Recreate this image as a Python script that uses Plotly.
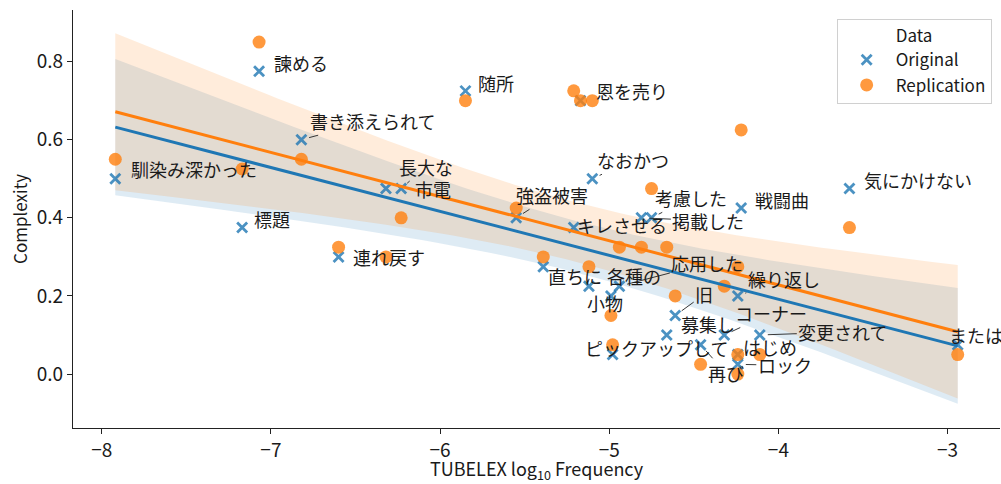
import numpy as np
import plotly.graph_objects as go

# ---------------- data ----------------
words = ["馴染み深かった", "標題", "諫める", "書き添えられて", "連れ戻す", "市電", "長大な",
         "随所", "強盗被害", "直ちに", "キレさせる", "恩を売り", "小物", "なおかつ",
         "各種の", "ピックアップして", "応用した", "掲載した", "考慮した", "募集し", "旧",
         "再び", "コーナー", "繰り返し", "ロック", "はじめ", "戦闘曲", "変更されて",
         "気にかけない", "または"]
log_freq = [-7.92, -7.17, -7.07, -6.82, -6.60, -6.32, -6.23,
            -5.85, -5.55, -5.39, -5.21, -5.17, -5.12, -5.10,
            -4.99, -4.98, -4.94, -4.81, -4.75, -4.66, -4.61,
            -4.46, -4.32, -4.24, -4.24, -4.24, -4.22, -4.11,
            -3.58, -2.94]
original = [0.500, 0.375, 0.775, 0.600, 0.300, 0.475, 0.475,
            0.725, 0.400, 0.275, 0.375, 0.700, 0.225, 0.500,
            0.200, 0.050, 0.225, 0.400, 0.400, 0.100, 0.150,
            0.075, 0.100, 0.200, 0.025, 0.050, 0.425, 0.100,
            0.475, 0.075]
replication = [0.550, 0.525, 0.850, 0.550, 0.325, 0.300, 0.400,
               0.700, 0.425, 0.300, 0.725, 0.700, 0.275, 0.700,
               0.150, 0.075, 0.325, 0.325, 0.475, 0.325, 0.200,
               0.025, 0.225, 0.275, 0.000, 0.050, 0.625, 0.050,
               0.375, 0.050]
x_ticks = [-8, -7, -6, -5, -4, -3]
y_ticks = [0.0, 0.2, 0.4, 0.6, 0.8]

# ---------------- label placement (pixels) ----------------
# ("left", xshift, yshift) -> plain text to the right of the point
# ("arrow", ax, ay)       -> text centre offset with leader line
label_pos = {
    "馴染み深かった": ("left", 14, 10),
    "諫める": ("left", 13, 8),
    "標題": ("left", 10, 9),
    "書き添えられて": ("arrow", 71, -19),
    "連れ戻す": ("left", 12, 0),
    "長大な": ("arrow", 25, -22),
    "市電": ("left", 27, 0),
    "随所": ("left", 11, 8),
    "恩を売り": ("left", 14, 10),
    "なおかつ": ("arrow", 41, -19),
    "強盗被害": ("arrow", 36, -23),
    "キレさせる": ("left", 1, 3),
    "考慮した": ("arrow", 39, -20),
    "掲載した": ("arrow", 67, 3),
    "戦闘曲": ("left", 12, 8),
    "気にかけない": ("left", 13, 9),
    "または": ("left", -11, 10),
    "直ちに": ("left", 3, -9),
    "各種の": ("arrow", 23, -20),
    "応用した": ("arrow", 88, -23),
    "小物": ("arrow", 16, 17),
    "旧": ("arrow", 29, -21),
    "繰り返し": ("arrow", 46, -17),
    "募集し": ("left", 12, 11),
    "コーナー": ("arrow", 47, -22),
    "変更されて": ("arrow", 83, -3),
    "はじめ": ("left", 3, 8),
    "ロック": ("arrow", 47, 1),
    "再び": ("arrow", 25, 28),
    "ピックアップして": ("arrow", 44, -7),
}

BLUE = "#1f77b4"
ORANGE = "#ff7f0e"
FONT = "Noto Sans CJK JP"
TXT = "#1a1a1a"


def reg_fit(x, y, n_grid=100):
    x = np.asarray(x, float)
    y = np.asarray(y, float)
    n = len(x)
    b, a = np.polyfit(x, y, 1)
    grid = np.linspace(x.min(), x.max(), n_grid)
    yhat = a + b * grid
    resid = y - (a + b * x)
    s = np.sqrt(np.sum(resid ** 2) / (n - 2))
    sxx = np.sum((x - x.mean()) ** 2)
    t = 2.048
    half = t * s * np.sqrt(1.0 / n + (grid - x.mean()) ** 2 / sxx)
    return grid, yhat, yhat - half, yhat + half


fig = go.Figure()

fits = {}
for name, vals, col, rgba in [("Original", original, BLUE, "rgba(31,119,180,0.15)"),
                              ("Replication", replication, ORANGE, "rgba(255,127,14,0.15)")]:
    g, yh, lo, hi = reg_fit(log_freq, vals)
    fits[name] = (g, yh, col)
    fig.add_trace(go.Scatter(
        x=np.concatenate([g, g[::-1]]), y=np.concatenate([hi, lo[::-1]]),
        fill="toself", fillcolor=rgba, line=dict(width=0), mode="lines",
        hoverinfo="skip", showlegend=False))

fig.add_trace(go.Scatter(
    x=log_freq, y=original, mode="markers", name="Original",
    marker=dict(symbol="x-thin", size=10, color=BLUE, opacity=0.8,
                line=dict(width=2.8, color=BLUE)),
    text=words))
fig.add_trace(go.Scatter(
    x=log_freq, y=replication, mode="markers", name="Replication",
    marker=dict(symbol="circle", size=13, color=ORANGE, opacity=0.8,
                line=dict(width=0)),
    text=words))

for name in ["Original", "Replication"]:
    g, yh, col = fits[name]
    fig.add_trace(go.Scatter(x=g, y=yh, mode="lines", line=dict(color=col, width=3),
                             hoverinfo="skip", showlegend=False))

annotations = []
for w, xv, yv in zip(words, log_freq, original):
    mode, dx, dy = label_pos[w]
    if mode == "left":
        annotations.append(dict(x=xv, y=yv, xref="x", yref="y", text=w, showarrow=False,
                                xanchor="left", yanchor="middle", xshift=dx, yshift=dy,
                                font=dict(family=FONT, size=18, color=TXT)))
    else:
        annotations.append(dict(x=xv, y=yv, xref="x", yref="y", text=w, showarrow=True,
                                ax=dx, ay=dy, arrowhead=0, arrowwidth=0.9,
                                arrowcolor="#222", standoff=8, startstandoff=0,
                                font=dict(family=FONT, size=18, color=TXT)))

fig.update_layout(
    width=1001, height=484,
    margin=dict(l=73, r=1, t=10, b=56),
    paper_bgcolor="white", plot_bgcolor="white",
    font=dict(family=FONT, size=18, color=TXT),
    annotations=annotations,
    legend=dict(
        x=0.991, y=0.978, xanchor="right", yanchor="top",
        title=dict(text="Data", side="top center", font=dict(size=17)),
        font=dict(size=17), bordercolor="#d0d0d0", borderwidth=1,
        itemwidth=48,
        bgcolor="rgba(255,255,255,0.8)"),
    xaxis=dict(range=[-8.17, -2.69], tickvals=x_ticks, showgrid=False, zeroline=False,
               showline=True, linecolor="#222", linewidth=1.2, ticks="outside",
               ticklen=5, tickcolor="#222", tickfont=dict(size=19),
               title=dict(text="TUBELEX log<sub>10</sub> Frequency", font=dict(size=18),
                          standoff=6)),
    yaxis=dict(range=[-0.138, 0.932], tickvals=y_ticks, tickformat=".1f", showgrid=False,
               zeroline=False, showline=True, linecolor="#222", linewidth=1.2,
               ticks="outside", ticklen=5, tickcolor="#222", tickfont=dict(size=19),
               title=dict(text="Complexity", font=dict(size=17), standoff=4)),
)

fig.write_html("out.html", config={"displayModeBar": False},
               post_script="document.body.style.margin='0';")
